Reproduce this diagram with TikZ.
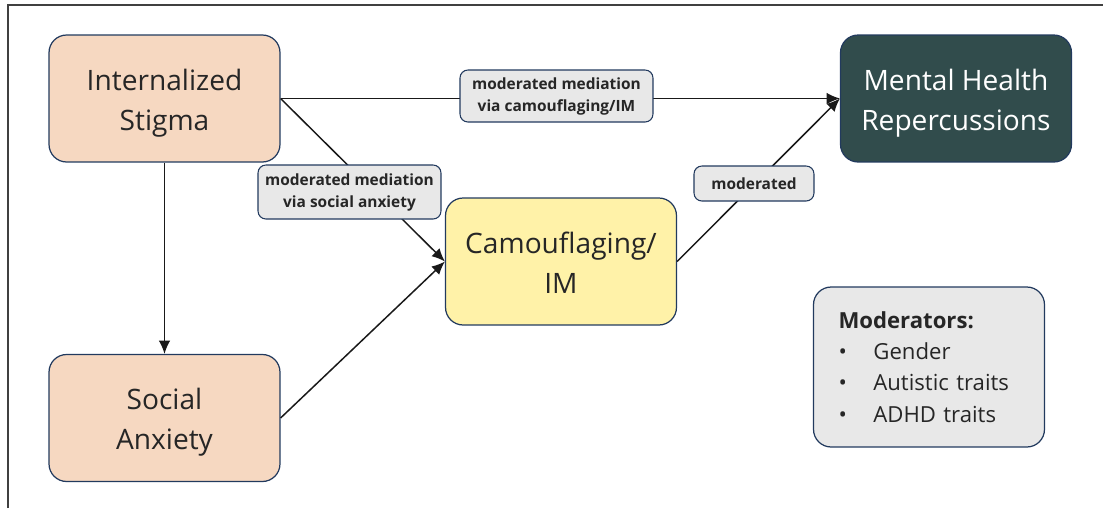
\documentclass[tikz,border=0pt]{standalone}
\usepackage{fontspec}
\setmainfont{Open Sans}
\usetikzlibrary{arrows.meta}

\definecolor{peach}{HTML}{F6D8C1}
\definecolor{sand}{HTML}{FFF2A8}
\definecolor{slate}{HTML}{314C4C}
\definecolor{lightgray}{HTML}{E8E8E8}
\definecolor{edgeblue}{HTML}{223A5E}

\tikzset{
  bigbox/.style={rectangle, rounded corners=10pt, draw=edgeblue, line width=0.7pt,
    minimum width=4.62cm, minimum height=2.54cm, text=black!85},
  varbox/.style={bigbox, align=center, font=\fontsize{16}{22.7}\selectfont,
    text height=40.2pt, text depth=4.3pt},
  tagbox/.style={rectangle, rounded corners=4.5pt, draw=edgeblue, line width=0.6pt,
    fill=lightgray, align=center, font=\fontsize{8.8}{12.5}\selectfont\bfseries, text=black!85},
  link/.style={-{Latex[length=7.5pt,width=6.5pt]}, line width=0.85pt, black!90}
}

\begin{document}
\begin{tikzpicture}[x=0.02cm, y=-0.02cm]
    \useasboundingbox (0,0) rectangle (1103,508);
    % frame
    \draw[black!75, line width=0.6pt] (8,508) -- (8,5) -- (1103,5);
    % nodes
    \node (stigma) at (164.5,98.5) [varbox, fill=peach] {Internalized\\Stigma};
    \node (anxiety) at (164.5,418) [varbox, fill=peach] {Social\\Anxiety};
    \node (camo) at (561,261.5) [varbox, fill=sand] {Camouflaging/\\IM};
    \node (health) at (956,98.5) [varbox, fill=slate, text=white] {Mental Health\\Repercussions};
    \node (mods) at (929,367) [bigbox, fill=lightgray, minimum height=3.2cm, align=left,
        text width=3.62cm, inner xsep=0.5cm,
        font=\fontsize{12.6}{17.8}\selectfont] {\textbf{Moderators:}\\
        •\hspace{1.2em}Gender\\
        •\hspace{1.2em}Autistic traits\\
        •\hspace{1.2em}ADHD traits};
    % paths
    \draw[link] (stigma.east) to (health.west);
    \draw[link] (stigma.east) to (camo.west);
    \draw[link] (anxiety.east) to (camo.west);
    \draw[link] (camo.east) to (health.west);
    \draw[link] (stigma.south) to (anxiety.north);
    % edge labels
    \node (viacamo) at (556.5,96) [tagbox, minimum width=3.86cm, minimum height=1.04cm] {moderated mediation\\via camouflaging/IM};
    \node (viaanx) at (349.5,192) [tagbox, minimum width=3.66cm, minimum height=1.08cm] {moderated mediation\\via social anxiety};
    \node (moder) at (754,183.5) [tagbox, minimum width=2.4cm, minimum height=0.7cm] {moderated};
\end{tikzpicture}
\end{document}
